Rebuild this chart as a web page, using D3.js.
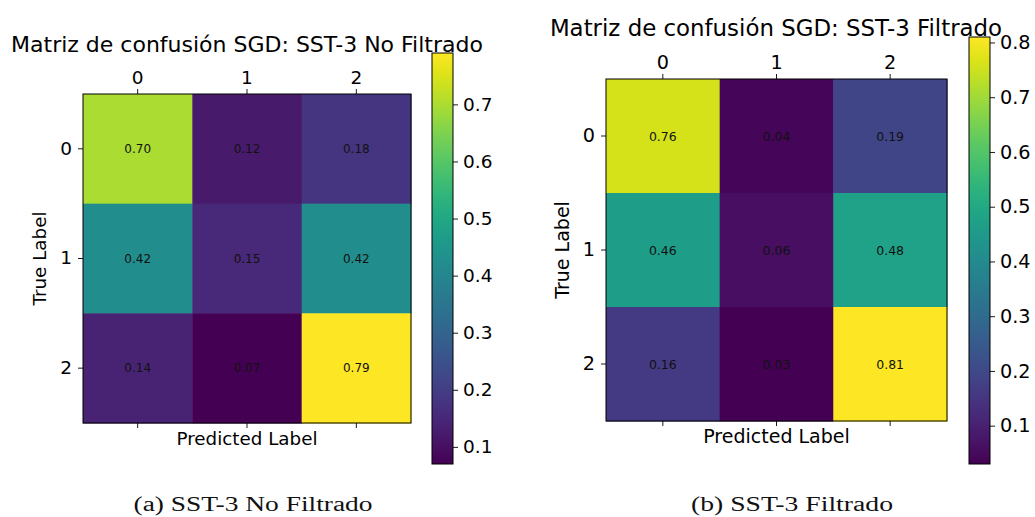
<!DOCTYPE html>
<html>
<head>
<meta charset="utf-8">
<script src="https://cdn.jsdelivr.net/npm/d3@7"></script>
<style>
  html, body { margin: 0; padding: 0; background: #fff; }
  svg { display: block; }
  .tick text { font-family: "DejaVu Sans", sans-serif; }
</style>
</head>
<body>
<svg id="chart" width="1035" height="517"></svg>
<script>
// Class labels shared by both matrices
const classLabels = ["0", "1", "2"];

// Row-normalised confusion matrices (rows = true label, cols = predicted)
const matrixNoFiltrado = [
  [0.70, 0.12, 0.18],
  [0.42, 0.15, 0.42],
  [0.14, 0.07, 0.79]
];
const matrixFiltrado = [
  [0.76, 0.04, 0.19],
  [0.46, 0.06, 0.48],
  [0.16, 0.03, 0.81]
];

// Colour-bar tick values
const ticksNoFiltrado = [0.1, 0.2, 0.3, 0.4, 0.5, 0.6, 0.7];
const ticksFiltrado = [0.1, 0.2, 0.3, 0.4, 0.5, 0.6, 0.7, 0.8];

const titles = [
  "Matriz de confusión SGD: SST-3 No Filtrado",
  "Matriz de confusión SGD: SST-3 Filtrado"
];
const captions = ["(a) SST-3 No Filtrado", "(b) SST-3 Filtrado"];

const SANS = "'DejaVu Sans', sans-serif";
const SERIF = "'Liberation Serif', 'DejaVu Serif', serif";

const svg = d3.select("#chart");
const defs = svg.append("defs");

// The second figure is embedded slightly larger, so its text scales with it
const panels = [
  { data: matrixNoFiltrado, ticks: ticksNoFiltrado, title: titles[0], caption: captions[0], k: 1,
    x0: 83, x1: 411, y0: 94, y1: 423, cbX: 432, cbW: 21, cbY0: 53, cbY1: 464,
    titleY: 52, titleX: 247, ylabX: 46, captionX: 253, captionW: 239 },
  { data: matrixFiltrado, ticks: ticksFiltrado, title: titles[1], caption: captions[1], k: 1.04,
    x0: 606, x1: 947, y0: 79, y1: 421, cbX: 969, cbW: 21, cbY0: 37, cbY1: 464,
    titleY: 36, titleX: 776, ylabX: 569, captionX: 792, captionW: 202 }
];

panels.forEach((p, pi) => {
  const g = svg.append("g");
  const flat = p.data.flat();
  const vmin = d3.min(flat), vmax = d3.max(flat);
  const color = d3.scaleSequential(d3.interpolateViridis).domain([vmin, vmax]);

  const x = d3.scaleBand().domain(classLabels).range([p.x0, p.x1]).padding(0);
  const y = d3.scaleBand().domain(classLabels).range([p.y0, p.y1]).padding(0);

  // Cells
  const cells = [];
  p.data.forEach((row, i) => row.forEach((v, j) => cells.push({ r: classLabels[i], c: classLabels[j], v })));

  g.selectAll("rect.cell").data(cells).join("rect")
    .attr("class", "cell")
    .attr("x", d => x(d.c))
    .attr("y", d => y(d.r))
    .attr("width", x.bandwidth() + 0.5)
    .attr("height", y.bandwidth() + 0.5)
    .attr("fill", d => color(d.v));

  g.selectAll("text.val").data(cells).join("text")
    .attr("class", "val")
    .attr("x", d => x(d.c) + x.bandwidth() / 2)
    .attr("y", d => y(d.r) + y.bandwidth() / 2)
    .attr("text-anchor", "middle")
    .attr("dominant-baseline", "central")
    .attr("font-family", SANS)
    .attr("font-size", 12 * p.k)
    .attr("fill", "#111")
    .text(d => d.v.toFixed(2));

  // Frame
  g.append("rect")
    .attr("x", p.x0).attr("y", p.y0)
    .attr("width", p.x1 - p.x0).attr("height", p.y1 - p.y0)
    .attr("fill", "none").attr("stroke", "#000").attr("stroke-width", 1);

  const styleAxis = sel => {
    sel.select(".domain").remove();
    sel.selectAll(".tick line").attr("stroke", "#000").attr("stroke-width", 0.9);
    sel.selectAll(".tick text").attr("font-family", SANS).attr("font-size", 18.5 * p.k).attr("fill", "#000");
  };

  // Top axis with labels
  g.append("g").attr("transform", `translate(0,${p.y0})`)
    .call(d3.axisTop(x).tickSize(5).tickPadding(5))
    .call(styleAxis);
  // Bottom axis ticks only
  g.append("g").attr("transform", `translate(0,${p.y1})`)
    .call(d3.axisBottom(x).tickSize(5).tickFormat(""))
    .call(styleAxis);
  // Left axis
  g.append("g").attr("transform", `translate(${p.x0},0)`)
    .call(d3.axisLeft(y).tickSize(5).tickPadding(6))
    .call(styleAxis);

  // Axis labels
  g.append("text")
    .attr("x", (p.x0 + p.x1) / 2).attr("y", p.y1 + 22)
    .attr("text-anchor", "middle")
    .attr("font-family", SANS).attr("font-size", 18.3 * p.k)
    .text("Predicted Label");
  g.append("text")
    .attr("transform", `translate(${p.ylabX},${(p.y0 + p.y1) / 2}) rotate(-90)`)
    .attr("text-anchor", "middle")
    .attr("font-family", SANS).attr("font-size", 18.3 * p.k)
    .text("True Label");

  // Title
  g.append("text")
    .attr("x", p.titleX).attr("y", p.titleY)
    .attr("text-anchor", "middle")
    .attr("font-family", SANS).attr("font-size", 22 * p.k)
    .text(p.title);

  // Colour bar
  const gid = "cbgrad" + pi;
  const grad = defs.append("linearGradient").attr("id", gid)
    .attr("x1", 0).attr("y1", 1).attr("x2", 0).attr("y2", 0);
  d3.range(0, 1.0001, 0.05).forEach(t => {
    grad.append("stop").attr("offset", t).attr("stop-color", color(vmin + t * (vmax - vmin)));
  });
  g.append("rect")
    .attr("x", p.cbX).attr("y", p.cbY0)
    .attr("width", p.cbW).attr("height", p.cbY1 - p.cbY0)
    .attr("fill", `url(#${gid})`)
    .attr("stroke", "#000").attr("stroke-width", 1);

  const cb = d3.scaleLinear().domain([vmin, vmax]).range([p.cbY1, p.cbY0]);
  g.append("g").attr("transform", `translate(${p.cbX + p.cbW},0)`)
    .call(d3.axisRight(cb).tickValues(p.ticks).tickFormat(d3.format(".1f")).tickSize(5).tickPadding(5))
    .call(styleAxis);

  // Caption
  g.append("text")
    .attr("x", p.captionX).attr("y", 511)
    .attr("text-anchor", "middle")
    .attr("font-family", SERIF).attr("font-size", 20.5)
    .attr("textLength", p.captionW)
    .attr("lengthAdjust", "spacingAndGlyphs")
    .attr("fill", "#111")
    .text(p.caption);
});
</script>
</body>
</html>
